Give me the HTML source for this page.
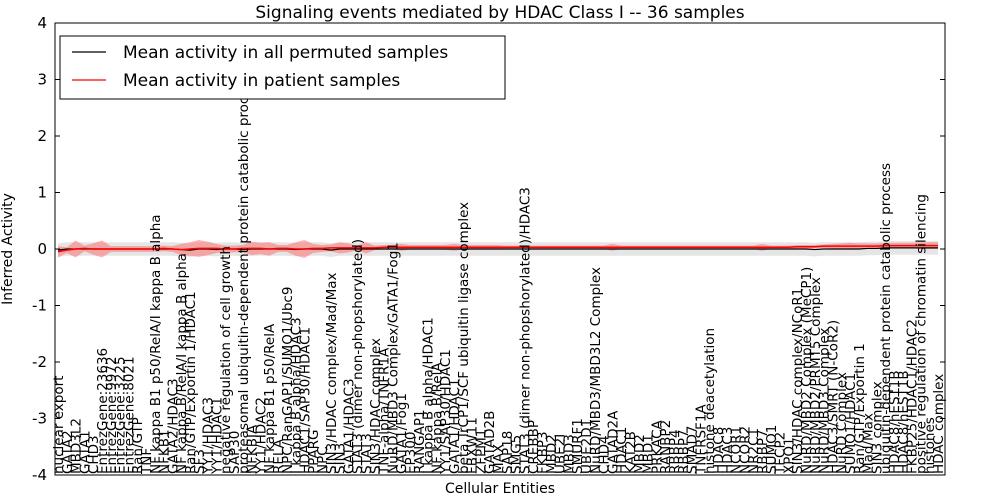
<!DOCTYPE html>
<html><head><meta charset="utf-8"><style>
body{margin:0;background:#fff;}
svg{display:block;font-family:"DejaVu Sans","Liberation Sans",sans-serif;}
</style></head><body>
<svg id="chart" width="1000" height="500">
<text x="500" y="18" font-size="17" text-anchor="middle">Signaling events mediated by HDAC Class I -- 36 samples</text>
<g id="bands"></g><g id="lines"></g><g id="labels"></g>
<rect x="55" y="23" width="890" height="452" fill="none" stroke="#000" stroke-width="1"/>
<g id="yaxis"></g>
<text x="500" y="493" font-size="14" text-anchor="middle">Cellular Entities</text>
<text transform="translate(12,249) rotate(-90)" font-size="14" text-anchor="middle">Inferred Activity</text>
<g>
<rect x="60" y="36" width="445" height="63" fill="#fff" stroke="#000"/>
<line x1="72" y1="52" x2="106" y2="52" stroke="#000" stroke-width="1.2"/>
<text x="123" y="58" font-size="17">Mean activity in all permuted samples</text>
<line x1="72" y1="80" x2="106" y2="80" stroke="red" stroke-width="1.2"/>
<text x="123" y="86" font-size="17">Mean activity in patient samples</text>
</g>
</svg>
<script>
const labels=["nuclear export","GATA2","MBD3L2","GATA1","CHD3","EntrezGene:23636","EntrezGene:9972","EntrezGene:3225","EntrezGene:8021","Ran/GTP","TNF","NF kappa B1 p50/RelA/I kappa B alpha","NFKB1","GATA2/HDAC3","NF kappa B/RelA/I kappa B alpha","Ran/GTP/Exportin 1/HDAC1","SF3","YY1/HDAC3","YY1/HDAC1","negative regulation of cell growth","SAP30","proteasomal ubiquitin-dependent protein catabolic process","NFKBIA","YY1/HDAC2","NF kappa B1 p50/RelA","RELA","NPC/RanGAP1/SUMO1/Ubc9","I kappa B alpha/HDAC3","HDAC1/SAP30/HDAC1","PPARG","NPC","SIN3/HDAC complex/Mad/Max","SIN3","GATA1/HDAC3","STAT3 (dimer non-phopshorylated)","STAT3","SIN3/HDAC complex","TNF-alpha/TNFR1A","NuRD/MBD3 Complex/GATA1/Fog1","GATA1/Fog1","EP300","RANGAP1","I kappa B alpha/HDAC1","NF kappa B/RelA","YY1/SAP30/HDAC1","GATA1/HDAC1","beta TrCP1/SCF ubiquitin ligase complex","FBXW11","ZFPM1","GATAD2B","MAX","SAP18","SMG5","STAT3 (dimer non-phopshorylated)/HDAC3","CREBBP","FKBP3","MBD2","UBE2I","MBD3","SMURF1","UBE2D1","NuRD/MBD3/MBD3L2 Complex","CHD4","GATAD2A","HDAC1","KAT2B","MBD2","MBD1","PRKACA","RANBP2","RBBP4","RBBP7","SMAD7","TNFRSF1A","histone deacetylation","HDAC8","HDAC3","NCOR1","NCOR2","NR2C1","RBBP7","SUMO1","TFCP2","XPO1","SIN3/HDAC complex/NCoR1","NuRD/MBD2 Complex (MeCP1)","NuRD/MBD2/PRMT5 Complex","NuRD/MBD3 Complex","HDAC3/SMRT (N-CoR2)","NuRD Complex","SUMO1/HDAC1","Ran/GTP/Exportin 1","Mad/Max","SIN3 complex","ubiquitin-dependent protein catabolic process","HDAC8/hEST1B","HDAC8/hEST1B","FKBP25/HDAC1/HDAC2","positive regulation of chromatin silencing","histones","HDAC complex"];
const patientMean=[-0.05,-0.02,0,0.01,0,0,0,0,0,0,0,0,0.01,0,-0.01,0,0.01,0.01,0.01,0,0,0.01,0.01,0.01,0,0.01,0.01,0,0,0.01,0.01,0.02,0.02,0.02,0.02,0.02,0.02,0.03,0.03,0.03,0.03,0.03,0.03,0.03,0.03,0.03,0.03,0.03,0.03,0.03,0.03,0.03,0.03,0.03,0.03,0.03,0.03,0.03,0.03,0.03,0.03,0.03,0.03,0.03,0.03,0.03,0.03,0.03,0.03,0.03,0.03,0.03,0.03,0.03,0.03,0.03,0.03,0.03,0.03,0.03,0.03,0.03,0.03,0.03,0.04,0.04,0.04,0.05,0.05,0.05,0.05,0.05,0.05,0.05,0.06,0.06,0.06,0.06,0.06,0.06,0.06];
const patientSpread=[0.1,0.05,0.15,0.05,0.1,0.15,0.05,0.05,0.05,0.05,0.05,0.05,0.05,0.05,0.1,0.12,0.15,0.12,0.08,0.06,0.06,0.06,0.12,0.1,0.12,0.06,0.06,0.12,0.16,0.08,0.06,0.06,0.1,0.08,0.04,0.1,0.04,0.04,0.04,0.06,0.04,0.04,0.04,0.04,0.04,0.06,0.04,0.04,0.04,0.04,0.04,0.03,0.03,0.03,0.03,0.03,0.03,0.03,0.03,0.03,0.03,0.03,0.03,0.06,0.03,0.03,0.03,0.03,0.03,0.03,0.03,0.03,0.03,0.03,0.03,0.03,0.03,0.03,0.03,0.03,0.06,0.03,0.03,0.03,0.03,0.03,0.03,0.03,0.04,0.05,0.06,0.05,0.05,0.05,0.05,0.05,0.05,0.05,0.06,0.06,0.06];
const permutedMean=[-0.02,0,0,0,0,0,0,0,0,0,0,0,0,0,-0.01,-0.02,0,0,-0.01,0,0,-0.01,0,0,0,0,0,-0.01,0,0,0,-0.02,0,0,0,0,0,0,0,0,0,0,0,0,0,0,0,0,0,0,0,0,0,0,0,0,0,0,0,0,0,0,0,0,0,0,0,0,0,0,0,0,0,0,0,0,0,0,0,0,0,0,0,0,0,0,-0.01,0,0,0,0,0,0.01,0.01,0.02,0.02,0.02,0.02,0.02,0.02,0.02];
const permutedSpread=0.12;
const yTicks=[4,3,2,1,0,-1,-2,-3,-4];
const X0=55,X1=945,Y0=23,Y1=475;
const N=labels.length;
const xs=i=>58+i*(880/(N-1));
const ys=v=>249-v*(Y1-Y0)/8;
const NS="http://www.w3.org/2000/svg";
function mk(t,a,p){const e=document.createElementNS(NS,t);for(const k in a)e.setAttribute(k,a[k]);p.appendChild(e);return e;}
const bands=document.getElementById('bands'),lines=document.getElementById('lines'),lg=document.getElementById('labels'),ya=document.getElementById('yaxis');
function bandPath(mean,spr){let up=[],dn=[];for(let i=0;i<N;i++){const s=typeof spr==='number'?spr:spr[i];up.push(xs(i)+','+ys(mean[i]+s));dn.unshift(xs(i)+','+ys(mean[i]-s));}return 'M'+up.join('L')+'L'+dn.join('L')+'Z';}
const gb=mk('path',{d:bandPath(permutedMean,permutedSpread),fill:'#ccc','fill-opacity':0.5},bands);


const rb=mk('path',{d:bandPath(patientMean,patientSpread),fill:'#f66','fill-opacity':0.5},bands);


const bl=mk('polyline',{points:permutedMean.map((v,i)=>xs(i)+','+ys(v)).join(' '),fill:'none',stroke:'#000','stroke-width':1.2},lines);


const rl=mk('polyline',{points:patientMean.map((v,i)=>xs(i)+','+ys(v)).join(' '),fill:'none',stroke:'red','stroke-width':1.5},lines);


labels.forEach((l,i)=>{const t=mk('text',{transform:`translate(${xs(i)+5},474) rotate(-90)`,'font-size':13.5},lg);t.textContent=l;

});
yTicks.forEach(v=>{const y=ys(v);mk('line',{x1:X0,x2:X0+5,y1:y,y2:y,stroke:'#000'},ya);mk('line',{x1:X1-5,x2:X1,y1:y,y2:y,stroke:'#000'},ya);
const t=mk('text',{x:X0-8,y:y+5,'font-size':15,'text-anchor':'end'},ya);t.textContent=v;

});
</script>
</body></html>
